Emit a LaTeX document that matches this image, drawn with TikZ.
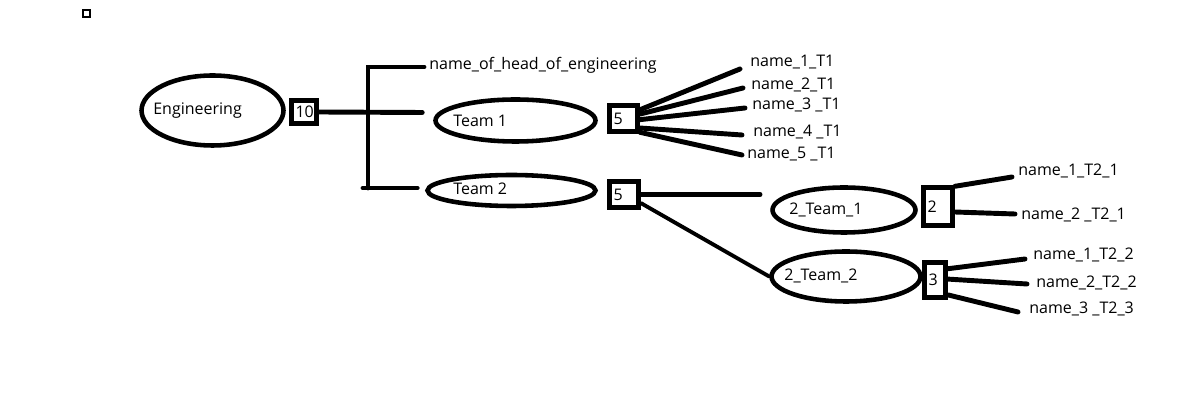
\documentclass[tikz,border=0pt]{standalone}
\usepackage{fontspec}
\setmainfont{Open Sans}
\usetikzlibrary{shapes.geometric,calc}

\begin{document}
\begin{tikzpicture}[x=0.02cm, y=-0.02cm, font=\fontsize{9.1}{10}\selectfont,
    wire/.style={line width=2.8pt, line cap=round},
    unit/.style={draw, ellipse, line width=2.6pt, inner sep=0pt},
    count/.style={draw, line width=2.8pt, inner xsep=0.08cm, inner ysep=0pt, align=left},
    tag/.style={inner sep=0pt, anchor=west},
    who/.style={inner sep=0pt, anchor=west}]
  \useasboundingbox (0,0) rectangle (1199,404);

  % marque en haut a gauche
  \draw[line width=0.6pt] (83,10) rectangle (90,17);

  % niveau 0 : Engineering
  \node[unit, minimum width=2.84cm, minimum height=1.4cm] (eng) at (212.5,110.5) {};
  \node[tag] at (153,111) {Engineering};
  \node[count, text width=0.34cm, minimum height=0.46cm] (b0) at (304,112) {10};

  % niveau 1 : chef + deux equipes
  \node[who] (head) at (429,65) {name\_of\_head\_of\_engineering};
  \node[unit, minimum width=3.2cm, minimum height=0.84cm] (t1) at (515.5,120.5) {};
  \node[tag] at (453,121) {Team 1};
  \node[count, text width=0.40cm, minimum height=0.52cm] (b1) at (623.5,118.5) {5};
  \node[unit, minimum width=3.36cm, minimum height=0.62cm] (t2) at (511.5,190.5) {};
  \node[tag] at (453,189) {Team 2};
  \node[count, text width=0.42cm, minimum height=0.52cm] (b2) at (624,194.5) {5};

  % la fourche
  \coordinate (ftop) at (368,67);
  \coordinate (fbot) at (368,188);
  \draw[wire, line join=miter] ($(head.west)+(-5,2)$) -- (ftop) -- (fbot);
  \draw[wire] (b0.east) -- ($(t1.west)+(-11,-8)$);
  \draw[wire] ($(fbot)+(-5,0)$) -- ($(t2.west)+(-8,-2.5)$);

  % membres de Team 1
  \node[who] (n11) at (750,62) {name\_1\_T1};
  \node[who] (n12) at (751,85) {name\_2\_T1};
  \node[who] (n13) at (752,105) {name\_3 \_T1};
  \node[who] (n14) at (753,132) {name\_4 \_T1};
  \node[who] (n15) at (747,154) {name\_5 \_T1};
  \draw[wire] (b1.28) -- ($(n11.west)+(-10,7)$);
  \draw[wire] (b1.15) -- ($(n12.west)+(-8,3)$);
  \draw[wire] (b1.-4) -- ($(n13.west)+(-7,3)$);
  \draw[wire] (b1.-30) -- ($(n14.west)+(-11,3)$);
  \draw[wire] (b1.-40) -- ($(n15.west)+(-5,1)$);

  % sous-equipes de Team 2
  \node[unit, minimum width=2.86cm, minimum height=0.9cm] (tt1) at (844,210) {};
  \node[tag] at (789,210) {2\_Team\_1};
  \node[count, text width=0.42cm, minimum height=0.76cm] (b3) at (938,206.5) {2};
  \node[unit, minimum width=2.98cm, minimum height=1.0cm] (tt2) at (846,276.5) {};
  \node[tag] at (784,276) {2\_Team\_2};
  \node[count, text width=0.26cm, minimum height=0.7cm] (b4) at (935,280) {3};
  \coordinate (gap1) at (760,194.5);
  \draw[wire] (b2.east) -- (gap1);
  \draw[line width=2.2pt, line cap=round] (b2.-27) -- (tt2.west);

  % membres des sous-equipes
  \node[who] (n21) at (1018,171) {name\_1\_T2\_1};
  \node[who] (n22) at (1021,215) {name\_2 \_T2\_1};
  \node[who] (n31) at (1033,255) {name\_1\_T2\_2};
  \node[who] (n32) at (1036,283) {name\_2\_T2\_2};
  \node[who] (n33) at (1029,309) {name\_3 \_T2\_3};
  \draw[wire] (b3.50) -- ($(n21.west)+(-6,6)$);
  \draw[wire] (b3.-18) -- ($(n22.west)+(-6,-1)$);
  \draw[wire] (b4.41) -- ($(n31.west)+(-8,4)$);
  \draw[wire] (b4.4) -- ($(n32.west)+(-9,1)$);
  \draw[wire] (b4.-49) -- ($(n33.west)+(-11,3)$);
\end{tikzpicture}
\end{document}
